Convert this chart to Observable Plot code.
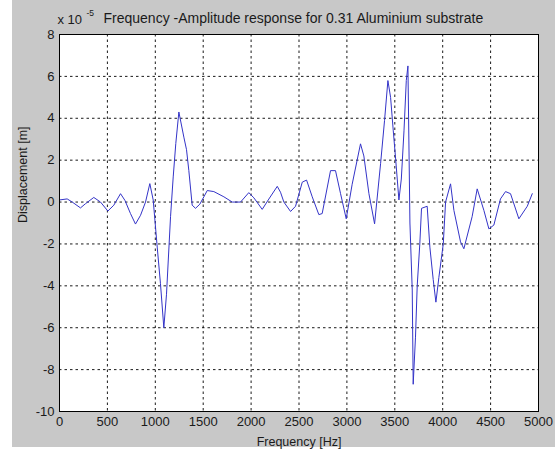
<!DOCTYPE html>
<html><head><meta charset="utf-8">
<script src="https://cdn.jsdelivr.net/npm/d3@7"></script>
<script src="https://cdn.jsdelivr.net/npm/@observablehq/plot@0.6"></script>
<style>
html,body{margin:0;padding:0;background:#fff;}
#bg{position:absolute;left:12px;top:0;width:543px;height:447px;background:#c8c8c8;}
#chart{position:absolute;left:0;top:0;}
</style></head><body><div id="bg"></div><div id="chart"></div>
<script>
const freq = [0, 80, 133, 219, 271, 358, 428, 505, 567, 637, 683, 741, 793, 846, 898, 943, 978, 1020, 1054, 1089, 1117, 1159, 1187, 1214, 1246, 1298, 1326, 1350, 1385, 1420, 1465, 1507, 1542, 1611, 1716, 1803, 1890, 1976, 2029, 2116, 2179, 2273, 2307, 2342, 2412, 2464, 2534, 2579, 2638, 2707, 2742, 2829, 2881, 2934, 2993, 3055, 3142, 3177, 3230, 3289, 3352, 3393, 3428, 3456, 3484, 3508, 3543, 3568, 3596, 3620, 3637, 3658, 3682, 3692, 3716, 3734, 3761, 3779, 3838, 3866, 3901, 3929, 3960, 4006, 4030, 4082, 4117, 4186, 4221, 4307, 4360, 4430, 4482, 4534, 4603, 4656, 4708, 4795, 4883, 4935];
const disp = [0.1, 0.15, 0.0, -0.28, -0.08, 0.22, 0.0, -0.43, -0.15, 0.4, 0.08, -0.55, -1.05, -0.63, 0.0, 0.88, 0.1, -2.15, -3.9, -6.0, -4.4, -0.7, 1.2, 2.8, 4.3, 3.1, 2.5, 1.5, -0.15, -0.3, -0.1, 0.25, 0.55, 0.5, 0.25, 0.0, 0.0, 0.45, 0.2, -0.35, 0.1, 0.75, 0.47, 0.0, -0.45, -0.2, 0.95, 1.05, 0.25, -0.6, -0.55, 1.5, 1.5, 0.4, -0.8, 0.85, 2.78, 2.2, 0.4, -1.04, 1.85, 3.9, 5.8, 5.0, 3.4, 2.1, 0.1, 1.1, 3.4, 5.8, 6.5, -1.0, -4.2, -8.7, -6.45, -4.0, -2.0, -0.3, -0.2, -2.15, -3.7, -4.78, -3.6, -2.0, 0.0, 0.87, -0.4, -1.9, -2.23, -0.7, 0.63, -0.4, -1.28, -1.1, 0.15, 0.5, 0.4, -0.8, -0.2, 0.4];
const xTicks = [0, 500, 1000, 1500, 2000, 2500, 3000, 3500, 4000, 4500, 5000];
const yTicks = [-10, -8, -6, -4, -2, 0, 2, 4, 6, 8];
const titleText = "Frequency -Amplitude response for 0.31 Aluminium substrate";
const xLabel = "Frequency [Hz]";
const yLabel = "Displacement [m]";

const data = freq.map((f, i) => ({f, d: disp[i]}));
const font = "'Liberation Sans', Arial, sans-serif";
const ink = "#1a1a1a";
const gridStyle = {stroke: "#000", strokeOpacity: 0.9, strokeDasharray: "2.5,3"};

const chart = Plot.plot({
  width: 555, height: 454,
  marginLeft: 59, marginRight: 17, marginTop: 34, marginBottom: 43,
  style: {background: "transparent", fontFamily: font, fontSize: "13px", color: ink},
  x: {domain: [0, 5000]},
  y: {domain: [-10, 8]},
  marks: [
    Plot.frame({fill: "white"}),
    Plot.gridX(xTicks.slice(1, -1), gridStyle),
    Plot.gridY(yTicks.slice(1, -1), gridStyle),
    Plot.axisX(xTicks, {tickSize: 0, tickPadding: 5, tickFormat: d => String(d), label: null}),
    Plot.axisY(yTicks, {tickSize: 0, tickPadding: 5, tickFormat: d => String(d), label: null}),
    Plot.text([xLabel], {frameAnchor: "bottom", text: d => d, dy: 30, lineAnchor: "middle", fontSize: 12.5, fill: ink}),
    Plot.text([yLabel], {frameAnchor: "left", text: d => d, dx: -37, rotate: -90, lineAnchor: "middle", fontSize: 12.5, fill: ink}),
    Plot.line(data, {x: "f", y: "d", stroke: "#3434c8", strokeWidth: 1}),
    Plot.frame({stroke: "#000"}),
    Plot.text([titleText], {frameAnchor: "top-left", text: d => d, dx: 44, dy: -16, textAnchor: "start", lineAnchor: "middle", fontSize: 14, fill: ink}),
    Plot.text(["x 10"], {frameAnchor: "top-left", text: d => d, dx: -2, dy: -15, textAnchor: "start", lineAnchor: "middle", fontSize: 13, fill: ink}),
    Plot.text(["-5"], {frameAnchor: "top-left", text: d => d, dx: 27, dy: -21, textAnchor: "start", lineAnchor: "middle", fontSize: 8.5, fill: ink})
  ]
});
document.getElementById("chart").append(chart);
</script></body></html>
